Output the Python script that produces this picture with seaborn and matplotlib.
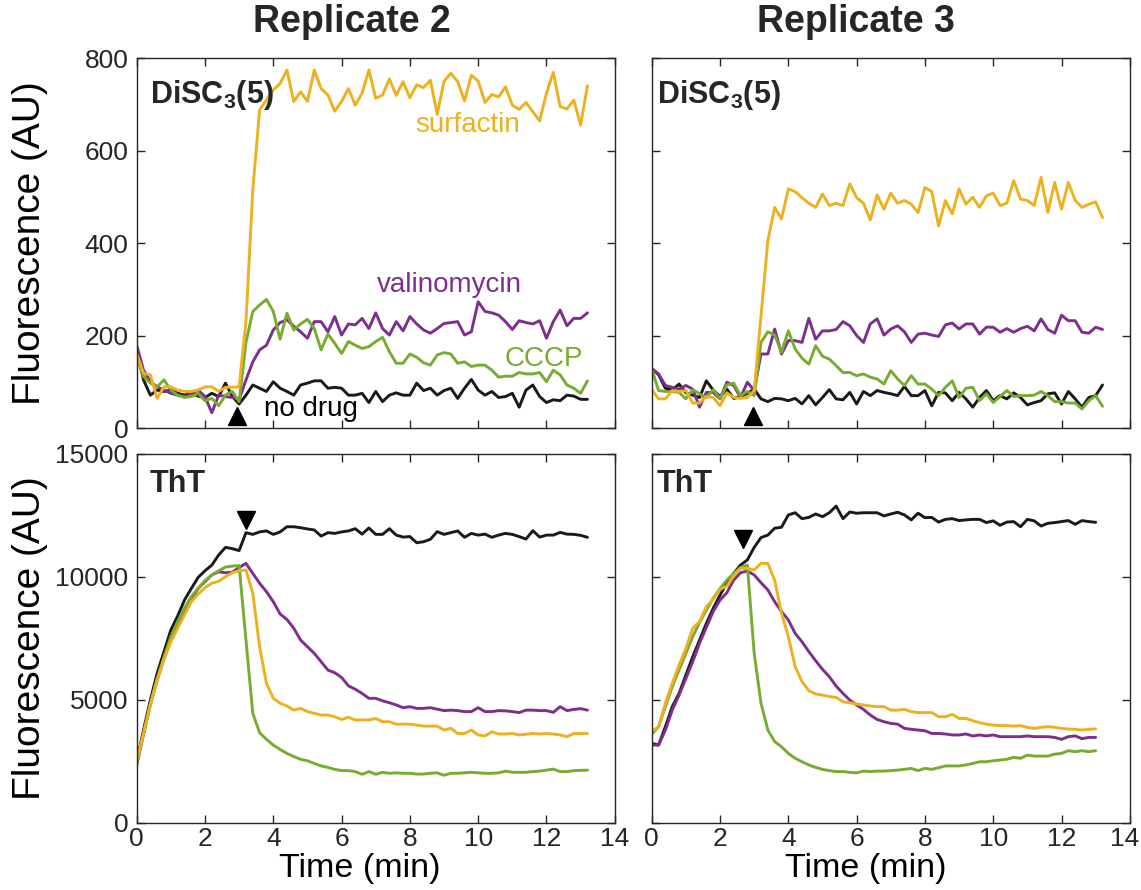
import numpy as np
import matplotlib
matplotlib.use("Agg")
import matplotlib.pyplot as plt
import matplotlib.transforms as mtransforms
import seaborn as sns

###########################
# values, one sample every 0.2 min

# Replicate 2, DiSC3(5)
tl_none = [170, 104, 71, 82, 79, 82, 75, 71, 76, 69, 66, 75, 68, 97, 68, 52, 71,
           93, 86, 79, 100, 86, 79, 71, 93, 97, 102, 102, 86, 88, 86, 71, 71, 75, 55, 79, 57, 71, 76, 71, 71,
           97, 81, 86, 71, 81, 86, 64, 86, 105, 82, 71, 79, 66, 68, 75, 45, 82, 93, 68, 55, 61, 59, 71, 69, 62, 62]
tl_vali = [179, 125, 100, 89, 82, 75, 71, 68, 75, 82, 68, 33, 71, 68, 66, 62, 104, 143, 169, 179, 212, 228, 234, 220,
           208, 194, 230, 230, 208, 241, 201, 225, 223, 237, 215, 249, 215, 201, 230, 210, 241, 225, 212, 205,
           215, 226, 228, 230, 201, 208, 273, 252, 249, 244, 230, 213, 232, 228, 225, 232, 194, 230, 255, 221, 237, 237, 249]
tl_cccp = [154, 111, 97, 89, 104, 82, 71, 66, 68, 75, 59, 64, 48, 71, 79, 57, 185, 252, 266, 278, 252, 192, 248,
           212, 225, 235, 215, 169, 203, 183, 161, 187, 179, 172, 176, 187, 196, 165, 140, 140, 160, 153, 141, 136,
           158, 163, 160, 140, 143, 133, 136, 136, 125, 110, 112, 112, 120, 117, 117, 120, 100, 125, 115, 93, 86, 75, 102]
tl_surf = [161, 118, 115, 64, 89, 89, 82, 79, 79, 82, 89, 89, 79, 88, 88, 89, 230, 515, 688, 709, 731, 745, 774,
           706, 727, 706, 774, 734, 720, 685, 706, 734, 698, 724, 774, 713, 720, 755, 719, 749, 714, 742, 736, 752,
           678, 750, 767, 749, 707, 763, 750, 704, 721, 716, 738, 698, 689, 704, 684, 664, 724, 769, 695, 690, 709, 655, 740]

# Replicate 3, DiSC3(5)
tr_none = [129, 115, 86, 82, 95, 76, 71, 66, 102, 82, 68, 84, 64, 68, 75, 84,
           63, 57, 64, 63, 59, 64, 52, 70, 50, 66, 83, 63, 61, 77, 52, 79, 70, 81, 77, 74, 70, 90, 70, 70, 81,
           48, 77, 76, 59, 77, 63, 45, 66, 81, 59, 70, 63, 76, 66, 50, 55, 59, 74, 76, 52, 79, 63, 45, 66, 70, 93]
tr_vali = [128, 117, 92, 88, 84, 92, 84, 45, 77, 77, 63, 99, 92, 66, 99, 81,
           160, 160, 214, 160, 189, 189, 185, 237, 192, 210, 210, 213, 230, 221, 200, 185, 225, 236, 201, 214, 221,
           208, 185, 203, 205, 201, 198, 223, 227, 214, 225, 225, 203, 218, 218, 207, 215, 207, 215, 220, 210, 236,
           213, 205, 244, 232, 232, 207, 205, 218, 213]
tr_cccp = [128, 81, 79, 79, 77, 63, 83, 74, 66, 83, 64, 93, 97, 70, 79, 70,
           185, 208, 201, 164, 210, 171, 151, 138, 178, 155, 149, 135, 120, 120, 113, 117, 110, 106, 95, 124, 106,
           92, 113, 95, 95, 84, 70, 88, 102, 66, 86, 88, 59, 74, 55, 68, 81, 68, 70, 70, 71, 79, 70, 57, 57, 54, 54,
           41, 59, 70, 47]
tr_surf = [83, 63, 63, 81, 79, 81, 54, 54, 68, 66, 48, 76, 66, 64, 66, 81,
           243, 405, 477, 452, 517, 511, 498, 486, 477, 506, 481, 486, 481, 528, 498, 486, 450, 504, 473, 508, 486,
           492, 484, 466, 520, 511, 437, 492, 463, 517, 484, 499, 477, 502, 508, 481, 486, 535, 495, 492, 481, 542,
           466, 531, 473, 531, 492, 477, 484, 489, 455]

# Replicate 2, ThT
bl_none = [2480, 3770, 4990, 6080, 6960, 7840, 8410, 9060, 9530, 9980, 10250, 10480, 10890, 11200, 11150, 11070,
           11800, 11730, 11830, 11870, 11730, 11830, 12040, 12040, 12000, 11950, 11910, 11660, 11800, 11770, 11830,
           11870, 11960, 11740, 11990, 11730, 11730, 11960, 11700, 11620, 11640, 11390, 11430, 11530, 11840, 11730,
           11800, 11870, 11610, 11770, 11700, 11740, 11610, 11700, 11770, 11730, 11640, 11540, 11880, 11620, 11700,
           11700, 11810, 11740, 11730, 11690, 11610]
bl_vali = [2350, 3600, 4800, 5800, 6690, 7430, 8040, 8590, 9090, 9530, 9810, 10080, 10210, 10170, 10190, 10380,
           10550, 10140, 9740, 9400, 8990, 8490, 8270, 7910, 7430, 7160, 6890, 6550, 6210, 6100, 5910, 5570, 5430,
           5260, 5060, 5060, 4960, 4880, 4790, 4680, 4720, 4650, 4650, 4680, 4620, 4560, 4580, 4560, 4520, 4520,
           4680, 4520, 4520, 4560, 4550, 4520, 4480, 4580, 4580, 4560, 4560, 4490, 4720, 4560, 4610, 4640, 4580]
bl_cccp = [2350, 3630, 4860, 5870, 6750, 7570, 8180, 8720, 9200, 9530, 9850, 10080, 10250, 10400, 10440, 10460,
           7430, 4450, 3660, 3390, 3160, 2980, 2820, 2690, 2580, 2520, 2410, 2310, 2250, 2170, 2120, 2120, 2080,
           1970, 2080, 1970, 2050, 2010, 2030, 2010, 2010, 1980, 1980, 2010, 2030, 1930, 2010, 2010, 2030, 2050,
           2030, 2010, 2010, 2030, 2100, 2050, 2050, 2050, 2080, 2100, 2140, 2180, 2080, 2080, 2120, 2130, 2140]
bl_surf = [2500, 3630, 4790, 5800, 6650, 7360, 7910, 8450, 8990, 9300, 9560, 9740, 9820, 10010, 10170, 10250,
           10280, 9330, 7160, 5670, 5060, 4860, 4750, 4580, 4650, 4520, 4450, 4380, 4380, 4310, 4200, 4290, 4180,
           4180, 4180, 4240, 4110, 4110, 4010, 4010, 4010, 3970, 3930, 3930, 3930, 3770, 3840, 3630, 3630, 3770,
           3570, 3530, 3700, 3610, 3610, 3630, 3570, 3600, 3630, 3610, 3630, 3610, 3570, 3500, 3630, 3630, 3630]

# Replicate 3, ThT
br_none = [3230, 3160, 3910, 4720, 5260, 6010, 6750, 7430, 8110, 8720, 9260, 9760, 10140, 10480, 10690, 11200,
           11600, 11700, 11980, 12020, 12520, 12610, 12370, 12420, 12560, 12450, 12610, 12880, 12370, 12640, 12590,
           12610, 12610, 12610, 12480, 12560, 12630, 12520, 12320, 12590, 12410, 12420, 12230, 12340, 12370, 12290,
           12320, 12340, 12340, 12210, 12280, 12100, 12230, 12250, 12040, 12340, 12280, 12070, 12180, 12210, 12250,
           12290, 12140, 12290, 12250, 12220]
br_vali = [3160, 3160, 3770, 4580, 5190, 5870, 6550, 7300, 7950, 8590, 9060, 9360, 9870, 10170, 10240, 10080,
           9760, 9470, 8990, 8590, 8250, 7700, 7360, 6960, 6590, 6240, 5940, 5560, 5260, 4990, 4790, 4610, 4380,
           4200, 4110, 4040, 4010, 3840, 3800, 3770, 3740, 3630, 3630, 3610, 3570, 3570, 3610, 3530, 3570, 3530,
           3570, 3500, 3500, 3500, 3500, 3530, 3500, 3500, 3500, 3470, 3390, 3500, 3530, 3420, 3470, 3470]
br_cccp = [3600, 3910, 4720, 5530, 6210, 6890, 7570, 8140, 8650, 9130, 9530, 9870, 10140, 10380, 10480, 6890,
           4860, 3770, 3300, 3090, 2820, 2620, 2480, 2350, 2250, 2170, 2120, 2080, 2080, 2050, 2030, 2100, 2080,
           2100, 2100, 2120, 2140, 2170, 2210, 2120, 2210, 2170, 2240, 2310, 2310, 2310, 2350, 2410, 2480, 2480,
           2520, 2550, 2580, 2660, 2620, 2750, 2710, 2710, 2710, 2790, 2820, 2930, 2890, 2930, 2890, 2930]
br_surf = [3740, 3880, 4860, 5670, 6410, 7090, 7910, 8180, 8790, 9090, 9490, 9630, 10040, 10350, 10350, 10280,
           10550, 10550, 9870, 8520, 7570, 6350, 5740, 5370, 5240, 5190, 5130, 5100, 4920, 4880, 4830, 4790, 4750,
           4720, 4720, 4580, 4580, 4610, 4520, 4480, 4480, 4480, 4310, 4310, 4410, 4240, 4240, 4150, 4070, 4010,
           3970, 3950, 3950, 3930, 3950, 3880, 3840, 3880, 3910, 3880, 3840, 3810, 3800, 3770, 3800, 3820]

# drug addition (arrowheads): time, height
arrows = {"tl": (2.93, 27), "tr": (2.97, 26), "bl": (3.19, 12320), "br": (2.66, 11540)}

dark = "#262626"
colors = {"none": "#1a1a1a", "vali": "#7E2F8E", "cccp": "#77AC30", "surf": "#EDB120"}

###########################
# style
sns.set_style("ticks")
plt.rcParams['font.family'] = ['Liberation Sans', 'DejaVu Sans']
plt.rcParams['mathtext.fontset'] = 'custom'
plt.rcParams['mathtext.rm'] = 'Liberation Sans'
plt.rcParams['mathtext.bf'] = 'Liberation Sans:bold'

fig = plt.figure(figsize=(11.41, 8.90), dpi=100)
W = 0.419
axes = {
    "tl": fig.add_axes([0.1198, 0.5191, W, 0.4157]),
    "tr": fig.add_axes([0.5712, 0.5191, W, 0.4157]),
    "bl": fig.add_axes([0.1198, 0.0756, W, 0.4143]),
    "br": fig.add_axes([0.5712, 0.0756, W, 0.4143]),
}
data = {
    "tl": [tl_none, tl_vali, tl_cccp, tl_surf],
    "tr": [tr_none, tr_vali, tr_cccp, tr_surf],
    "bl": [bl_none, bl_vali, bl_cccp, bl_surf],
    "br": [br_none, br_vali, br_cccp, br_surf],
}

for key, ax in axes.items():
    for name, y in zip(["none", "vali", "cccp", "surf"], data[key]):
        t = 0.2 * np.arange(len(y))
        sns.lineplot(x=t, y=y, color=colors[name], lw=2.1, ax=ax)
    top = key[0] == "t"
    ax.plot(*arrows[key], marker="^" if top else "v", ms=13, color="black", ls="none")
    ax.set_xlim(0, 14)
    ax.set_xticks(range(0, 15, 2))
    if top:
        ax.set_ylim(0, 800)
        ax.set_yticks(range(0, 801, 200))
    else:
        ax.set_ylim(0, 15000)
        ax.set_yticks([0, 5000, 10000, 15000])
    ax.tick_params(direction="in", length=6, width=1, top=True, right=True,
                   labelsize=19, colors=dark, pad=6)
    ax.tick_params(axis="x", pad=3)
    if top:
        ax.set_xticklabels([])
    if key[1] == "r":
        ax.set_yticklabels([])
    for s in ax.spines.values():
        s.set_linewidth(1)
        s.set_color(dark)
    ax.set_xlabel("")
    ax.set_ylabel("")

# keep the last "14" inside the picture
lab = axes["br"].get_xticklabels()[-1]
lab.set_transform(lab.get_transform() + mtransforms.ScaledTranslation(-5 / 100, 0, fig.dpi_scale_trans))

# panel labels
xoff = {"tl": 0.028, "tr": 0.012, "bl": 0.028, "br": 0.0105}
for key in ["tl", "tr"]:
    axes[key].text(xoff[key], 0.878, r"DiSC$_\mathbf{3}$(5)", transform=axes[key].transAxes,
                   fontsize=22, fontweight="bold", color=dark, va="baseline")
for key in ["bl", "br"]:
    axes[key].text(xoff[key], 0.898, "ThT", transform=axes[key].transAxes,
                   fontsize=22, fontweight="bold", color=dark, va="baseline")

# curve names
ax = axes["tl"]
ax.text(9.7, 640, "surfactin", color=colors["surf"], fontsize=20, ha="center", va="baseline")
ax.text(9.17, 295, "valinomycin", color=colors["vali"], fontsize=20, ha="center", va="baseline")
ax.text(11.92, 133, "CCCP", color=colors["cccp"], fontsize=20, ha="center", va="baseline")
ax.text(5.1, 26, "no drug", color="black", fontsize=20, ha="center", va="baseline")

# titles and axis labels
fig.text(352 / 1141, 1 - 22 / 890, "Replicate 2", fontsize=27, fontweight="bold", color=dark, ha="center", va="center")
fig.text(856 / 1141, 1 - 22 / 890, "Replicate 3", fontsize=27, fontweight="bold", color=dark, ha="center", va="center")
for yc in [243, 638]:
    fig.text(30 / 1141, 1 - yc / 890, "Fluorescence (AU)", fontsize=28, color="black",
             rotation=90, ha="center", va="center")
for xc in [360, 866]:
    fig.text(xc / 1141, 1 - 877 / 890, "Time (min)", fontsize=24.5, color="black", ha="center", va="baseline")

plt.savefig("out.png", dpi=100)
